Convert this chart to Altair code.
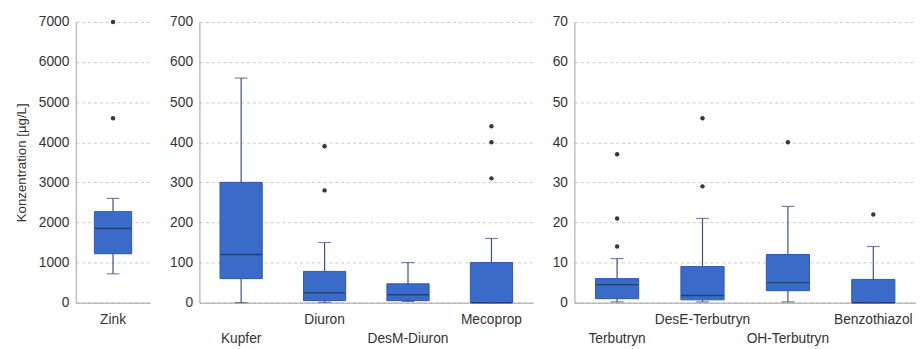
import altair as alt
import pandas as pd

# ---- data ----
names_1 = ["Zink"]
stats_1 = {  # lo, q1, med, q3, hi
    "Zink": [720, 1220, 1850, 2270, 2600],
}
outliers_1 = {"Zink": [4600, 7000]}

names_2 = ["Kupfer", "Diuron", "DesM-Diuron", "Mecoprop"]
stats_2 = {
    "Kupfer": [0, 60, 120, 300, 560],
    "Diuron": [1, 5, 25, 78, 150],
    "DesM-Diuron": [3, 5, 20, 47, 100],
    "Mecoprop": [0, 0, 0, 100, 160],
}
outliers_2 = {"Diuron": [280, 390], "Mecoprop": [310, 400, 440]}

names_3 = ["Terbutryn", "DesE-Terbutryn", "OH-Terbutryn", "Benzothiazol"]
stats_3 = {
    "Terbutryn": [0.2, 1, 4.5, 6, 11],
    "DesE-Terbutryn": [0.2, 0.7, 1.8, 9, 21],
    "OH-Terbutryn": [0.2, 3, 5, 12, 24],
    "Benzothiazol": [0, 0, 0, 5.8, 14],
}
outliers_3 = {"Terbutryn": [14, 21, 37], "DesE-Terbutryn": [29, 46], "OH-Terbutryn": [40],
              "Benzothiazol": [22]}

y_ticks_1 = [0, 1000, 2000, 3000, 4000, 5000, 6000, 7000]
y_ticks_2 = [0, 100, 200, 300, 400, 500, 600, 700]
y_ticks_3 = [0, 10, 20, 30, 40, 50, 60, 70]

low_labels = ["Kupfer", "DesM-Diuron", "Terbutryn", "OH-Terbutryn"]

FILL = "#3a6bc9"
STROKE = "#2d58ad"
MED = "#1c2b55"
WHISK = "#3b4f86"
DOT = "#2f3550"
FONT = "Liberation Sans"


def panel(names, stats, outliers, ticks, width, box, title=None):
    df = pd.DataFrame([[n] + stats[n] for n in names],
                      columns=["name", "lo", "q1", "med", "q3", "hi"])
    od = pd.DataFrame([(n, v) for n, vs in outliers.items() for v in vs],
                      columns=["name", "value"])
    pad_expr = "indexof(" + str(low_labels) + ", datum.value) >= 0"
    xenc = alt.X("name:N", sort=names, title=None,
                 axis=alt.Axis(labelAngle=0, ticks=False,
                               labelPadding=alt.condition(pad_expr, alt.value(30), alt.value(10))))
    yscale = alt.Scale(domain=[ticks[0], ticks[-1]], nice=False)
    yaxis = alt.Axis(values=ticks, title=title, ticks=False, labelPadding=7,
                     titlePadding=10, format="d")
    base = alt.Chart(df)
    rule = base.mark_rule(color=WHISK, strokeWidth=1.2).encode(
        x=xenc, y=alt.Y("lo:Q", scale=yscale, axis=yaxis), y2="hi:Q")
    bar = base.mark_bar(size=box, color=FILL, stroke=STROKE, strokeWidth=1).encode(
        x=xenc, y=alt.Y("q1:Q", scale=yscale, axis=yaxis), y2="q3:Q")
    med = base.mark_tick(size=box - 1, color=MED, thickness=1.5, orient="horizontal").encode(
        x=xenc, y="med:Q")
    cap_hi = base.mark_tick(size=13, color=WHISK, thickness=1.2, orient="horizontal").encode(
        x=xenc, y="hi:Q")
    cap_lo = base.mark_tick(size=13, color=WHISK, thickness=1.2, orient="horizontal").encode(
        x=xenc, y="lo:Q")
    pts = alt.Chart(od).mark_circle(size=20, color=DOT, opacity=1).encode(
        x=alt.X("name:N", sort=names, title=None), y="value:Q")
    return alt.layer(rule, bar, med, cap_hi, cap_lo, pts).properties(width=width, height=286)


p1 = panel(names_1, stats_1, outliers_1, y_ticks_1, 76, 38, "Konzentration [µg/L]")
p2 = panel(names_2, stats_2, outliers_2, y_ticks_2, 340, 43)
p3 = panel(names_3, stats_3, outliers_3, y_ticks_3, 348, 44)

chart = alt.hconcat(p1, p2, p3, spacing=19).properties(
    padding={"left": 6, "top": 4, "right": 0, "bottom": 0}
).configure_view(stroke=None).configure_axis(
    labelFont=FONT, titleFont=FONT, labelFontSize=14, titleFontSize=13.5,
    labelColor="#333333", titleColor="#333333", titleFontWeight="normal",
    domainColor="#a0a0a0", grid=True, gridColor="#c8c8c8", gridDash=[3, 3],
).configure_axisX(grid=False, labelFontSize=14).configure_concat(spacing=19)

chart.save("out.html", embed_options={"renderer": "svg", "actions": False})
